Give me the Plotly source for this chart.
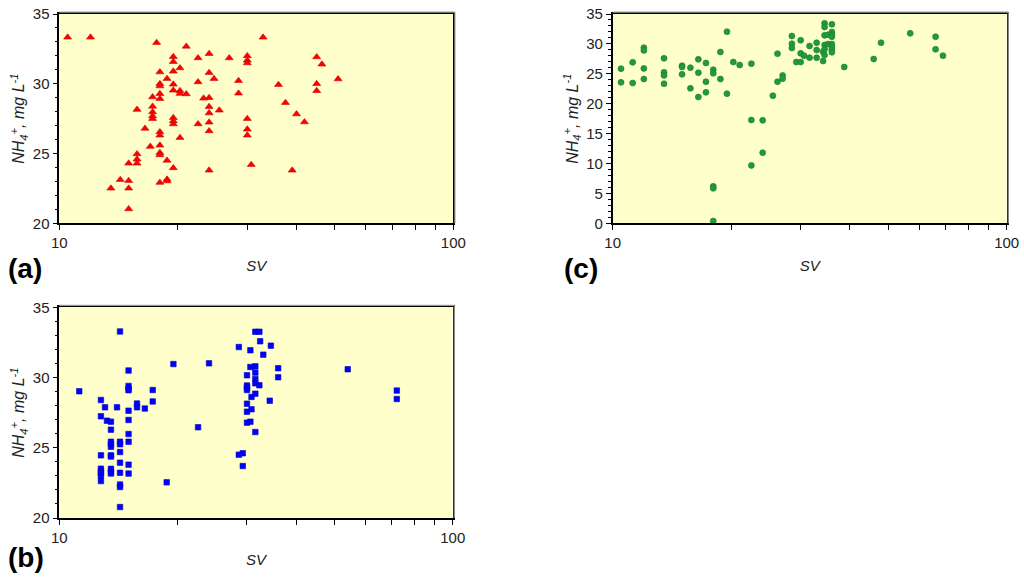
"""
    Purpose: Three-panel scatter of NH4+ concentration against SV on a log axis,
        panels (a), (b) and (c), each on a pale yellow plot area.
    Outputs:
        out.html: self-contained figure.
"""
##########==========##########==========##########==========##########==========
## INITIALIZE

import plotly.graph_objects as go

## panel (a): red triangles
a_sv = [10.5, 12.0, 17.66, 21.0, 22.5, 24.0, 27.0, 30.0, 30.0, 30.0, 32.9,
        45.0, 46.4, 51.0, 45.0, 45.0, 36.0, 37.5, 40.0, 41.9, 39.0, 30.7,
        30.0, 30.0, 30.0, 28.5, 28.5, 24.7, 24.0, 24.0, 24.0, 24.0, 24.0,
        24.0, 24.0, 23.24, 25.47, 22.5, 22.5, 20.24, 20.24, 20.24, 21.0,
        20.24, 19.47, 19.47, 19.47, 19.47, 19.47, 19.47, 19.47, 19.47, 19.47,
        18.77, 18.77, 18.77, 18.77, 18.0, 18.0, 18.0, 18.0, 18.0, 18.0,
        18.0, 18.0, 18.0, 18.0, 18.0, 17.25, 17.25, 17.25, 17.25, 17.25,
        17.02, 16.5, 15.75, 15.75, 15.75, 15.75, 15.0, 15.0, 15.0, 15.0,
        14.28, 13.52]
a_nh4 = [33.33, 33.33, 32.95, 32.68, 31.85, 32.16, 31.85, 32.0, 31.68, 31.49, 33.33,
         31.92, 31.4, 30.34, 30.0, 29.5, 29.94, 28.65, 27.83, 27.26, 23.8, 24.2,
         27.5, 26.74, 26.31, 30.22, 29.32, 30.37, 30.8, 29.0, 28.36, 27.9, 27.24,
         26.62, 23.8, 28.96, 28.1, 30.13, 27.12, 31.13, 29.5, 29.3, 29.27,
         26.14, 31.94, 31.58, 30.89, 29.96, 29.53, 27.57, 27.33, 27.12, 23.97,
         30.37, 24.51, 23.15, 23.03, 30.84, 30.0, 29.84, 29.29, 28.93, 26.55,
         26.31, 25.59, 25.06, 24.9, 22.92, 29.05, 28.38, 27.98, 27.69, 27.5,
         25.5, 26.8, 28.15, 24.97, 24.59, 24.3, 24.3, 23.06, 22.51, 21.03,
         23.13, 22.51]

## panel (b): blue squares
b_sv = [11.24, 12.76, 12.76, 12.76, 12.76, 12.76, 12.76, 12.76, 12.76,
        13.07, 13.22, 13.53, 13.53, 13.53, 13.53, 13.53, 13.53, 13.53,
        13.53, 13.53, 13.53,
        14.02, 14.27, 14.27, 14.27, 14.27, 14.27, 14.27, 14.27, 14.27, 14.27,
        15.0, 15.0, 15.0, 15.0, 15.0, 15.0, 15.0, 15.0, 15.0, 15.0,
        15.76, 15.76, 16.5, 17.28, 17.28, 18.75, 19.5, 22.53, 24.02,
        28.6, 28.6, 29.27, 29.27, 30.0, 30.0, 30.0, 30.0, 30.0, 30.0, 30.0,
        30.6, 30.6, 30.6, 30.8, 30.8, 31.5, 32.25, 32.4, 31.5, 31.5, 31.5,
        31.5, 32.25, 31.5, 31.5, 33.0, 34.5, 34.27, 36.0, 36.0, 54.1, 72.1, 72.1]
b_nh4 = [29.02, 28.4, 27.24, 24.46, 23.51, 23.34, 23.18, 22.99, 22.63,
         27.88, 26.93, 26.86, 26.29, 25.43, 25.26, 25.07, 24.46, 24.37,
         23.5, 23.3, 23.17,
         27.88, 33.28, 25.43, 25.25, 24.7, 23.94, 23.22, 22.38, 22.2, 20.78,
         30.5, 29.4, 29.2, 29.1, 27.64, 26.98, 25.98, 25.43, 23.8, 23.16,
         28.15, 27.88, 27.79, 29.11, 28.3, 22.54, 30.96, 26.46, 31.01,
         32.17, 24.51, 24.61, 23.7, 30.16, 29.43, 29.29, 29.11, 28.14, 27.57, 26.79,
         31.94, 30.75, 26.86, 28.62, 27.74, 33.26, 33.26, 32.58, 30.8, 30.35,
         29.9, 29.59, 29.45, 28.85, 26.12, 31.63, 32.27, 28.35, 30.66, 30.02,
         30.59, 29.07, 28.47]

## panel (c): green circles
c_sv = [10.5, 10.5, 11.24, 11.24, 12.0, 12.0, 12.0, 12.0, 13.5, 13.5, 13.5, 13.5,
        15.0, 15.0, 15.0, 15.75, 15.75, 16.5, 16.5, 16.5, 17.25, 17.25, 17.25,
        18.0, 18.0, 18.0, 18.0, 18.0, 18.77, 18.77, 19.5, 19.5, 20.24, 21.0,
        22.49, 22.49, 22.49, 24.03, 24.03, 25.5, 26.2, 26.2, 27.0, 27.0,
        28.5, 28.5, 28.5, 29.24, 30.0, 30.0, 30.0, 30.6, 31.6, 31.6,
        32.94, 32.94, 32.94, 34.2, 34.2, 34.5, 34.5, 34.5, 34.5, 34.5, 34.5,
        35.2, 35.2, 36.0, 36.0, 36.0, 36.0, 36.0, 36.0, 36.0, 36.0,
        38.7, 45.97, 47.97, 56.9, 66.0, 66.0, 68.9]
c_nh4 = [25.86, 23.57, 26.92, 23.46, 29.37, 28.92, 25.91, 24.13, 27.59, 25.25, 24.74, 23.35,
         26.36, 26.14, 24.91, 26.03, 22.57, 27.42, 25.19, 21.12, 26.81, 23.68, 21.9,
         25.69, 25.08, 6.18, 5.85, 0.39, 28.65, 24.13, 32.05, 21.68, 26.97, 26.47,
         26.7, 17.27, 9.69, 17.22, 11.81, 21.34, 28.37, 23.68, 24.74, 24.19,
         31.32, 30.04, 29.31, 26.97, 30.6, 28.42, 26.97, 28.03, 29.65, 27.7,
         30.2, 28.98, 27.7, 27.14, 28.7, 33.44, 32.83, 31.43, 29.82, 29.09, 28.14,
         31.54, 29.98, 33.27, 32.0, 31.54, 31.2, 29.98, 29.54, 29.09, 28.59,
         26.14, 27.48, 30.2, 31.77, 31.2, 29.09, 28.03]

## axis ticks
x_tickvals = [10, 20, 30, 40, 50, 60, 70, 80, 90, 100]
x_ticktext = ['10', '', '', '', '', '', '', '', '', '100']

params = dict()
params['width'] = 1024
params['height'] = 584
params['font'] = 'Liberation Sans, Arial, sans-serif'
params['bg'] = '#FFFFCC'
params['ink'] = '#222222'
params['y_title'] = '<i>NH<sub>4</sub><sup>+</sup>, mg L<sup>-1</sup></i>'


##########==========##########==========##########==========##########==========
## BUILD FIGURE

fig = go.Figure()

panels = [
    dict(ax='', sv=a_sv, nh4=a_nh4, symbol='triangle-up', color='#FF0000',
         line='#D00000', size=7, yr=[20, 35], xd=[0.0579, 0.4427], yd=[0.6176, 0.976]),
    dict(ax='2', sv=b_sv, nh4=b_nh4, symbol='square', color='#0000FF',
         line='#0000CC', size=5.5, yr=[20, 35], xd=[0.0579, 0.4421], yd=[0.113, 0.4738]),
    dict(ax='3', sv=c_sv, nh4=c_nh4, symbol='circle', color='#22993A',
         line='#17802C', size=6, yr=[0, 35], xd=[0.5983, 0.9831], yd=[0.6176, 0.976]),
]

for p in panels:
    fig.add_trace(go.Scatter(
        x=p['sv'], y=p['nh4'], mode='markers',
        xaxis='x' + p['ax'], yaxis='y' + p['ax'],
        marker=dict(symbol=p['symbol'], color=p['color'], size=p['size'],
                    line=dict(color=p['line'], width=0.6)),
        showlegend=False, hoverinfo='x+y'))

    xname = 'xaxis' + p['ax']
    yname = 'yaxis' + p['ax']
    fig.update_layout({
        xname: dict(
            type='log', range=[1, 2], domain=p['xd'], anchor='y' + p['ax'],
            tickvals=x_tickvals, ticktext=x_ticktext, automargin=False,
            ticks='outside', ticklen=5, tickwidth=1, tickcolor='black',
            showline=True, linecolor='black', linewidth=1.5, mirror=True,
            showgrid=False, zeroline=False,
            tickfont=dict(size=15, color=params['ink']),
            title=dict(text='<i>SV</i>', font=dict(size=15, color=params['ink']), standoff=10),
        ),
        yname: dict(
            range=p['yr'], domain=p['yd'], anchor='x' + p['ax'], automargin=False,
            dtick=5, ticks='outside', ticklen=5, tickwidth=1, tickcolor='black',
            minor=dict(dtick=1, ticks='outside', ticklen=3, tickcolor='black', showgrid=False),
            showline=True, linecolor='black', linewidth=1.5, mirror=True,
            showgrid=False, zeroline=False,
            tickfont=dict(size=15, color=params['ink']),
            title=dict(text=params['y_title'], font=dict(size=16, color=params['ink']), standoff=4),
        ),
    })
    xdom = 'x' + p['ax'] + ' domain'
    ydom = 'y' + p['ax'] + ' domain'
    ## pale yellow plot area per panel
    fig.add_shape(type='rect', xref=xdom, yref=ydom,
                  x0=0, x1=1, y0=0, y1=1, fillcolor=params['bg'], line_width=0, layer='below')
    ## faint drop shadow along the top and right frame edges
    fig.add_shape(type='line', xref=xdom, yref=ydom, x0=0, x1=1.004, y0=1.009, y1=1.009,
                  line=dict(color='#9A9A9A', width=1.2))
    fig.add_shape(type='line', xref=xdom, yref=ydom, x0=1.004, x1=1.004, y0=0, y1=1.009,
                  line=dict(color='#9A9A9A', width=1.2))

## panel letters
for txt, x, y in [('(a)', 0.006, 0.541), ('(b)', 0.006, 0.046), ('(c)', 0.549, 0.541)]:
    fig.add_annotation(text='<b>' + txt + '</b>', x=x, y=y, xref='paper', yref='paper',
                       xanchor='left', yanchor='middle', showarrow=False,
                       font=dict(size=28, color='black', family=params['font']))

fig.update_layout(
    width=params['width'], height=params['height'],
    margin=dict(l=0, r=0, t=0, b=0),
    paper_bgcolor='white', plot_bgcolor='white',
    font=dict(family=params['font'], color=params['ink']),
)

## drop the default 8 px page margin so the figure sits at the window's corner
fig.write_html('out.html', config={'displayModeBar': False},
               post_script="document.body.style.margin = '0';")
